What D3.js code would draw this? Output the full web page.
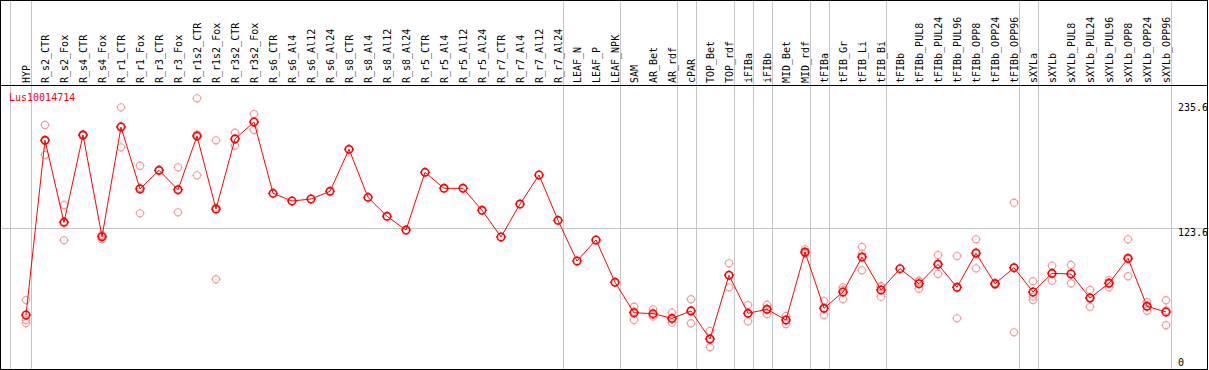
<!DOCTYPE html>
<html>
<head>
<meta charset="utf-8">
<script src="https://cdn.jsdelivr.net/npm/d3@7"></script>
<style>
  body { margin: 0; background: #fff; }
  text { font-family: "DejaVu Sans Mono", monospace; font-size: 10px; }
</style>
</head>
<body>
<div id="chart"></div>
<script>
const geneName = "Lus10014714";

const categories = ["HYP", "R_s2_CTR", "R_s2_Fox", "R_s4_CTR", "R_s4_Fox", "R_r1_CTR", "R_r1_Fox",
  "R_r3_CTR", "R_r3_Fox", "R_r1s2_CTR", "R_r1s2_Fox", "R_r3s2_CTR", "R_r3s2_Fox", "R_s6_CTR",
  "R_s6_Al4", "R_s6_Al12", "R_s6_Al24", "R_s8_CTR", "R_s8_Al4", "R_s8_Al12", "R_s8_Al24",
  "R_r5_CTR", "R_r5_Al4", "R_r5_Al12", "R_r5_Al24", "R_r7_CTR", "R_r7_Al4", "R_r7_Al12",
  "R_r7_Al24", "LEAF_N", "LEAF_P", "LEAF_NPK", "SAM", "AR_Bet", "AR_rdf", "cPAR", "TOP_Bet",
  "TOP_rdf", "iFIBa", "iFIBb", "MID_Bet", "MID_rdf", "tFIBa", "tFIB_Gr", "tFIB_Li", "tFIB_Bi",
  "tFIBb", "tFIBb_PUL8", "tFIBb_PUL24", "tFIBb_PUL96", "tFIBb_OPP8", "tFIBb_OPP24", "tFIBb_OPP96",
  "sXYLa", "sXYLb", "sXYLb_PUL8", "sXYLb_PUL24", "sXYLb_PUL96", "sXYLb_OPP8", "sXYLb_OPP24",
  "sXYLb_OPP96"];

// mean expression per sample
const means = [45.7, 202.2, 128.7, 206.9, 115.8, 214.1, 158.6, 175.3, 157.9, 206.0, 140.6, 203.4,
  218.6, 154.7, 147.8, 149.6, 156.5, 194.1, 151.1, 134.1, 121.8, 173.5, 159.2, 159.2, 139.5,
  115.6, 145.1, 171.1, 130.5, 94.1, 112.9, 75.0, 47.7, 46.9, 42.7, 49.3, 24.2, 81.3, 47.2, 50.8,
  41.2, 102.1, 51.7, 66.3, 97.6, 68.1, 87.2, 73.7, 91.1, 70.5, 101.0, 73.7, 88.1, 66.3, 83.0,
  82.4, 60.9, 74.1, 96.5, 53.5, 48.4];

// individual replicates (empty = single value)
const replicates = [
  [59.1, 41.2, 38.5], [215.9, 189.0, 201.7], [144.2, 112.6, 129.3], [207.5, 206.5, 206.8],
  [117.4, 113.5, 116.5], [231.7, 195.9, 214.7], [179.4, 136.8, 159.6], [175.6, 175.0, 175.3],
  [178.0, 137.7, 158.0], [239.8, 170.8, 207.4], [202.2, 77.7, 141.9], [209.0, 197.3, 203.9],
  [225.7, 211.4, 218.7],
  [], [], [], [], [], [], [], [], [], [], [], [], [], [], [], [], [], [], [],
  [53.1, 41.2, 48.9], [50.8, 44.2, 45.6], [47.7, 38.8, 41.7], [59.8, 38.3, 49.7],
  [31.4, 16.8, 24.4], [92.0, 70.5, 81.3], [54.6, 40.0, 47.0], [54.9, 46.6, 50.9],
  [44.8, 37.6, 41.2], [104.5, 101.2, 100.6], [58.2, 45.7, 51.2], [70.5, 60.0, 68.4],
  [106.6, 85.7, 100.5], [71.7, 62.1, 70.5], [],
  [76.4, 69.2, 75.5], [99.4, 82.4, 91.5], [98.5, 42.7, 70.3], [113.5, 87.5, 102.0],
  [74.6, 72.8, 73.7], [146.3, 30.2, 87.8], [75.9, 62.1, 59.1], [89.9, 76.4, 82.7],
  [90.5, 74.1, 82.6], [68.1, 53.1, 61.5], [77.0, 70.5, 74.8], [113.5, 80.4, 95.6],
  [57.3, 49.5, 53.7], [58.9, 36.5, 49.8]
];

// last sample index of each tissue group (separator drawn after it)
const groupEnds = [0, 28, 31, 34, 35, 37, 38, 39, 41, 42, 45, 52, 53, 60];
const axisTicks = [0, 123.6, 235.6];
const gridTicks = [123.6];

const width = 1209, height = 370;
const headerBottom = 85;

const svg = d3.select("#chart").append("svg")
  .attr("width", width)
  .attr("height", height);

const x = d3.scaleLinear().domain([0, categories.length - 1]).range([26, 1166]);
const y = d3.scaleLinear().domain([0, 235.6]).range([366, 103]);

// group separators
svg.append("line")
  .attr("x1", x(0) - 15.5).attr("x2", x(0) - 15.5)
  .attr("y1", 0).attr("y2", height)
  .attr("stroke", "#c4c4c4");
svg.selectAll(".sep").data(groupEnds).enter()
  .append("line")
  .attr("class", "sep")
  .attr("x1", d => Math.round(x(d) + 4.7) + 0.5)
  .attr("x2", d => Math.round(x(d) + 4.7) + 0.5)
  .attr("y1", 0).attr("y2", height)
  .attr("stroke", "#c4c4c4");

// horizontal grid
svg.selectAll(".hgrid").data(gridTicks).enter()
  .append("line")
  .attr("class", "hgrid")
  .attr("x1", 0).attr("x2", width)
  .attr("y1", d => Math.round(y(d)) + 0.5)
  .attr("y2", d => Math.round(y(d)) + 0.5)
  .attr("stroke", "#c4c4c4");

// frame + header rule
svg.append("rect")
  .attr("x", 0.5).attr("y", 0.5)
  .attr("width", width - 2).attr("height", height - 1)
  .attr("fill", "none").attr("stroke", "#000");
svg.append("line")
  .attr("x1", 0).attr("x2", width - 1)
  .attr("y1", headerBottom + 0.5).attr("y2", headerBottom + 0.5)
  .attr("stroke", "#000");

// sample labels
svg.selectAll(".lab").data(categories).enter()
  .append("text")
  .attr("class", "lab")
  .attr("transform", (d, i) => "translate(" + (x(i) + 3.5) + "," + (headerBottom - 2) + ") rotate(-90)")
  .attr("fill", "#000")
  .text(d => d);

// right-hand value labels
svg.selectAll(".ylab").data(axisTicks).enter()
  .append("text")
  .attr("class", "ylab")
  .attr("x", 1178)
  .attr("y", d => d === 0 ? y(d) : y(d) + 8)
  .attr("fill", "#000")
  .text(d => d);

svg.append("text")
  .attr("x", 9)
  .attr("y", 100.5)
  .attr("fill", "#ff0000")
  .text(geneName);

function marker(g, cx, cy, r, color, sw) {
  g.append("circle")
    .attr("cx", cx).attr("cy", cy).attr("r", r)
    .attr("fill", "none").attr("stroke", color).attr("stroke-width", sw);
  const t = r + 0.6 + sw / 2;
  [[0, -1], [0, 1], [-1, 0], [1, 0]].forEach(([dx, dy]) => {
    g.append("line")
      .attr("x1", cx + dx * r).attr("y1", cy + dy * r)
      .attr("x2", cx + dx * t).attr("y2", cy + dy * t)
      .attr("stroke", color).attr("stroke-width", 1);
  });
}

// replicate points
const repG = svg.append("g");
replicates.forEach((reps, i) => {
  reps.forEach(v => marker(repG, x(i), y(v), 3.6, "#f29c9c", 1.1));
});

// mean line
const line = d3.line()
  .x((d, i) => x(i))
  .y(d => y(d));
svg.append("path")
  .attr("d", line(means))
  .attr("fill", "none")
  .attr("stroke", "#ff0000")
  .attr("stroke-width", 1);

// mean points
const meanG = svg.append("g");
means.forEach((v, i) => marker(meanG, x(i), y(v), 3.7, "#ff0000", 1.6));
</script>
</body>
</html>
